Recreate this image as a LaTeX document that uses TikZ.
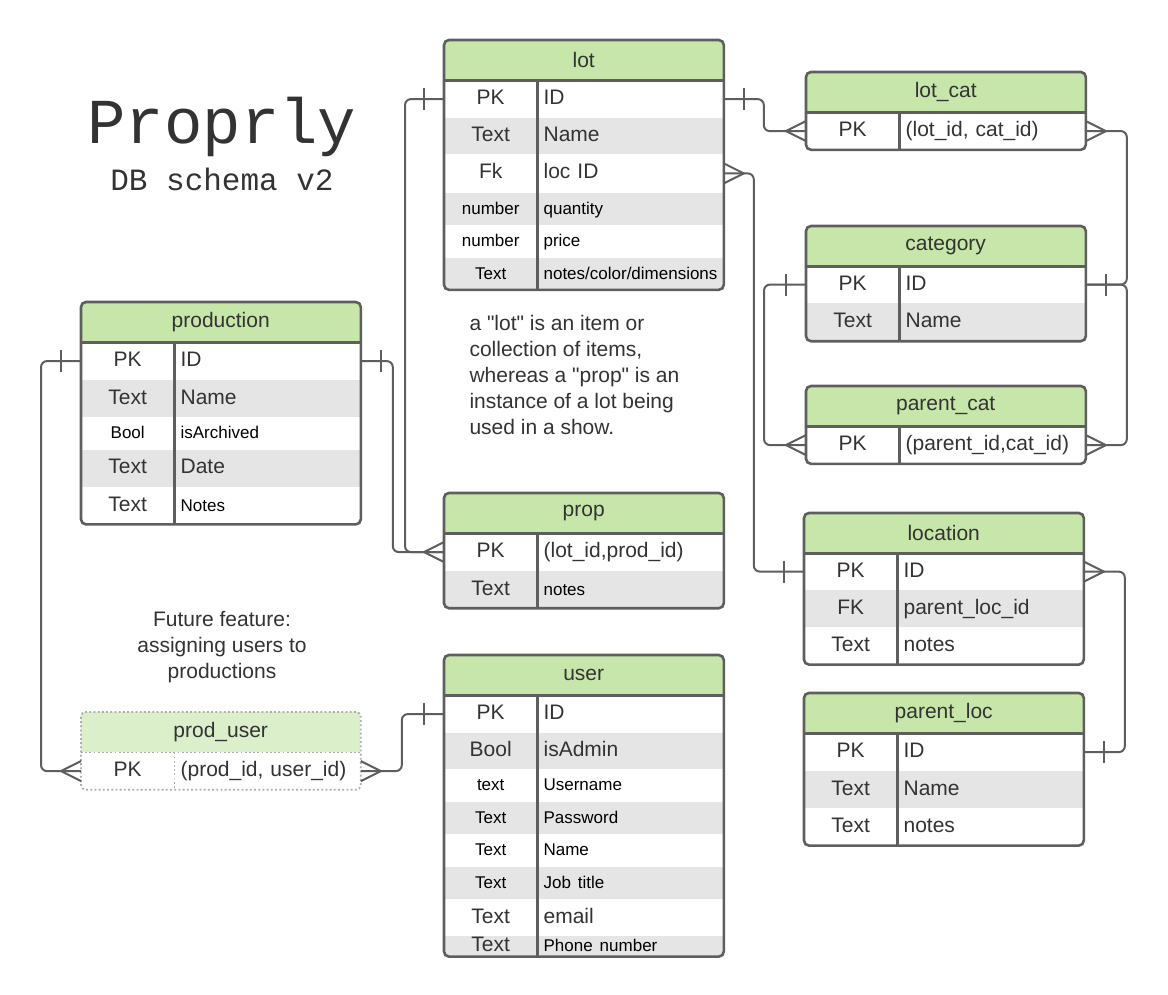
\documentclass[tikz,border=0pt]{standalone}
\usepackage{fontspec}
\setmainfont{Liberation Sans}
\setmonofont{Liberation Mono}
\usetikzlibrary{positioning,calc}

\definecolor{hdgreen}{HTML}{C6E6AA}
\definecolor{futuregreen}{HTML}{DBEFCA}
\definecolor{rowgray}{HTML}{E5E5E5}
\definecolor{edgegray}{HTML}{5E5E5E}
\definecolor{ink}{HTML}{333333}

\newcommand{\bigtxt}{\fontsize{21}{26}\selectfont}
\newcommand{\smtxt}{\fontsize{17}{20}\selectfont\color{black}}

\tikzset{
  dbhead/.style={fill=hdgreen, minimum width=279pt, minimum height=40pt, inner sep=0pt, font=\bigtxt, text=ink},
  keycell/.style={minimum width=93pt, inner sep=0pt, font=\bigtxt, text=ink, text height=15pt, text depth=4pt},
  fieldcell/.style={text width=174pt, inner xsep=6pt, inner ysep=0pt, align=left, font=\bigtxt, text=ink, text height=15pt, text depth=4pt},
  dbline/.style={draw=edgegray, line width=2.6pt},
  conn/.style={draw=edgegray, line width=2pt},
  link/.style={conn, rounded corners=6pt},
  note/.style={font=\bigtxt, text=ink}
}

\newcommand{\dbtable}[4]{%
  \node[dbhead, anchor=north west, alias=#1-0] (#1) at (#2) {#3};
  \foreach \k/\f/\h [count=\i, remember=\i as \j (initially 0)] in {#4} {
    \ifodd\i\relax\def\bg{white}\else\def\bg{rowgray}\fi
    \node[keycell, fill=\bg, minimum height=\h pt, anchor=north west] (#1-\i) at (#1-\j.south west) {\k};
    \node[fieldcell, fill=\bg, minimum height=\h pt, anchor=west] (#1-\i f) at (#1-\i.east) {\f};
    \xdef\dblast{\i}
  }
  \draw[dbline] (#1.south west) -- (#1.south east);
  \draw[dbline] (#1-1.north east) -- (#1-\dblast.south east);
  \draw[dbline, rounded corners=5pt] (#1.north west) rectangle (#1-\dblast f.south east);
}
\newcommand{\crowfoot}[2]{\draw[conn, shift={(#1)}, xscale=#2] (0,-10) -- (20,0) -- (0,10);}
\newcommand{\onebar}[2]{\draw[conn, shift={(#1)}, xscale=#2] (20,-11) -- (20,11);}

\begin{document}
\begin{tikzpicture}[x=1pt, y=-1pt]
\useasboundingbox[fill=white] (0,0) rectangle (1168,994);

\node[font={\ttfamily\fontsize{64}{66}\selectfont}, text=ink] (title) at (222,127) {Proprly};
\node[font={\ttfamily\fontsize{31}{34}\selectfont}, text=ink, below=4pt of title] (subtitle) {DB schema v2};

\dbtable{lot}{444,40}{lot}{PK/ID/37, Text/Name/36, Fk/loc ID/38,
  \smtxt number/\smtxt quantity/32, \smtxt number/\smtxt price/32,
  \smtxt Text/{\smtxt notes/color/dimensions}/32}
\dbtable{lotcat}{806,72}{lot\_cat}{PK/{(lot\_id, cat\_id)}/37}
\dbtable{category}{806,226}{category}{PK/ID/36, Text/Name/38}
\dbtable{parentcat}{806,386}{parent\_cat}{PK/{(parent\_id,cat\_id)}/37}
\dbtable{location}{804,513}{location}{PK/ID/36, FK/parent\_loc\_id/37, Text/notes/37}
\dbtable{parentloc}{804,693}{parent\_loc}{PK/ID/37, Text/Name/37, Text/notes/37}
\dbtable{production}{81,302}{production}{PK/ID/37, Text/Name/37,
  \smtxt Bool/\smtxt isArchived/32, Text/Date/37, Text/\smtxt Notes/37}
\dbtable{prop}{444,493}{prop}{PK/{(lot\_id,prod\_id)}/37, Text/\smtxt notes/37}
\dbtable{user}{444,655}{user}{PK/ID/37, Bool/isAdmin/36,
  \smtxt text/\smtxt Username/32, \smtxt Text/\smtxt Password/32,
  \smtxt Text/\smtxt Name/32, \smtxt Text/\smtxt Job title/32,
  Text/email/37, Text/\smtxt Phone number/20}
\begin{scope}[dbhead/.append style={fill=futuregreen},
  dbline/.style={draw=gray!65, line width=1.8pt, dash pattern=on 1.8pt off 2.4pt}]
\dbtable{produser}{81,712}{prod\_user}{PK/{(prod\_id, user\_id)}/37}
\end{scope}

\node[note, align=left, anchor=north west] (lotnote) at (466,312)
  {a \textquotedbl lot\textquotedbl{} is an item or\\collection of items,\\whereas a \textquotedbl prop\textquotedbl{} is an\\instance of a lot being\\used in a show.};
\node[note, align=center] (future) at (222,647)
  {Future feature:\\assigning users to\\productions};

\draw[link] (lot-1.west) -- ++(-39,0) |- (prop-1.west);
\draw[link] (production-1f.east) -- ++(32,0) |- (prop-1.west);
\draw[link] (lot-1f.east) -- ++(40,0) |- (lotcat-1.west);
\draw[link] (lotcat-1f.east) -- ++(41,0) |- (category-1f.east);
\draw[link] (category-1.west) -- ++(-42,0) |- (parentcat-1.west);
\draw[link] (parentcat-1f.east) -- ++(41,0) |- (category-1f.east);
\draw[link] (lot-3f.east) -- ++(30,0) |- (location-1.west);
\draw[link] (location-1f.east) -- ++(41,0) |- (parentloc-1f.east);
\draw[link] (production-1.west) -- ++(-40,0) |- (produser-1.west);
\draw[link] (produser-1f.east) -- ++(41,0) |- (user-1.west);

\onebar{lot-1.west}{-1}
\crowfoot{prop-1.west}{-1}
\onebar{production-1f.east}{1}
\onebar{lot-1f.east}{1}
\crowfoot{lotcat-1.west}{-1}
\crowfoot{lotcat-1f.east}{1}
\onebar{category-1f.east}{1}
\onebar{category-1.west}{-1}
\crowfoot{parentcat-1.west}{-1}
\crowfoot{parentcat-1f.east}{1}
\crowfoot{lot-3f.east}{1}
\onebar{location-1.west}{-1}
\crowfoot{location-1f.east}{1}
\onebar{parentloc-1f.east}{1}
\onebar{production-1.west}{-1}
\crowfoot{produser-1.west}{-1}
\crowfoot{produser-1f.east}{1}
\onebar{user-1.west}{-1}
\end{tikzpicture}
\end{document}
